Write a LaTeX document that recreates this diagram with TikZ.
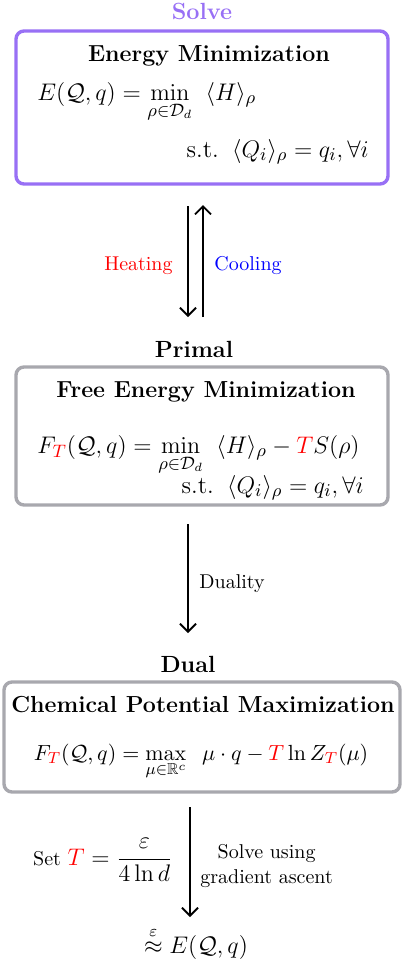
\documentclass[tikz,border=0pt]{standalone}
\usepackage{amsmath}
\usepackage{amssymb}
\usepackage{xcolor}
\usetikzlibrary{arrows.meta, positioning, fit, calc}

\definecolor{solvepurple}{RGB}{152,112,245}
\definecolor{framegray}{RGB}{168,168,174}

\tikzset{
  framebox/.style={draw, rounded corners=4pt, line width=1.7pt, inner sep=0pt},
  header/.style={font=\fontsize{11.7}{14}\selectfont\bfseries, inner sep=0pt},
  boxtitle/.style={font=\fontsize{11.6}{13}\selectfont\bfseries, inner sep=0pt},
  eqn/.style={font=\fontsize{12.3}{14}\selectfont, inner sep=0pt},
  lbl/.style={font=\fontsize{10}{12.5}\selectfont, inner sep=0pt},
  flow/.style={-{Straight Barb[length=4pt,width=8pt]}, line width=0.9pt},
}

\begin{document}
\begin{tikzpicture}[x=0.5pt, y=-0.5pt]
\useasboundingbox (0,0) rectangle (404,964);

% Solve
\node[header, text=solvepurple, anchor=base] (solvelbl) at (202,19) {Solve};
\node[framebox, draw=solvepurple, fit={(16,31) (388,184)}] (energybox) {};
\node[boxtitle, anchor=base] (energytitle) at (209,61) {Energy Minimization};
\node[eqn, anchor=base west] (energyeq) at (37,100)
  {$\displaystyle E(\mathcal{Q},q) = \min_{\rho\in\mathcal{D}_d}\;\; \langle H\rangle_\rho$};
\node[eqn, anchor=base east] (energyst) at (369,157)
  {$\text{s.t.}\;\; \langle Q_i\rangle_\rho = q_i, \forall i$};

% Heating / cooling
\coordinate (heattop) at (188,206);
\coordinate (heatbot) at (188,317);
\coordinate (cooltop) at (203,205);
\coordinate (coolbot) at (203,317);
\draw[flow] (heattop) -- (heatbot);
\draw[flow] (coolbot) -- (cooltop);
\node[lbl, text=red, anchor=base east] (heatlbl) at (173,270) {Heating};
\node[lbl, text=blue, anchor=base west] (coollbl) at (214,270) {Cooling};

% Primal
\node[header, anchor=base] (primallbl) at (194,357) {Primal};
\node[framebox, draw=framegray, fit={(16,367) (388,505)}] (primalbox) {};
\node[boxtitle, anchor=base] (primaltitle) at (206,397) {Free Energy Minimization};
\node[eqn, anchor=base west] (primaleq) at (37,453)
  {$\displaystyle F_{\textcolor{red}{T}}(\mathcal{Q},q) = \min_{\rho\in\mathcal{D}_d}\;\; \langle H\rangle_\rho - \textcolor{red}{T}S(\rho)$};
\node[eqn, anchor=base east] (primalst) at (364,493)
  {$\text{s.t.}\;\; \langle Q_i\rangle_\rho = q_i, \forall i$};

% Duality
\coordinate (dualtop) at (188,524);
\coordinate (dualbot) at (188,633);
\draw[flow] (dualtop) -- (dualbot);
\node[lbl, anchor=base west] (duallbl) at (199,588) {Duality};

% Dual
\node[header, anchor=base] (dualhead) at (188,672) {Dual};
\node[framebox, draw=framegray, fit={(4,682) (400,792)}] (dualbox) {};
\node[boxtitle, anchor=base] (dualtitle) at (203,712) {Chemical Potential Maximization};
\node[eqn, font=\fontsize{11.3}{13}\selectfont, anchor=base] (dualeq) at (201,760)
  {$\displaystyle F_{\textcolor{red}{T}}(\mathcal{Q},q) = \max_{\mu\in\mathbb{R}^c}\;\; \mu\cdot q - \textcolor{red}{T}\ln Z_{\textcolor{red}{T}}(\mu)$};

% Gradient ascent
\coordinate (ascenttop) at (190,807);
\coordinate (ascentbot) at (190,917);
\draw[flow] (ascenttop) -- (ascentbot);
\node[lbl, anchor=east] (setlbl) at (173,860)
  {Set {\fontsize{11.8}{14}\selectfont$\textcolor{red}{T} = \dfrac{\varepsilon}{4\ln d}$}};
\node[lbl, align=center, anchor=west] (solvenote) at (200,866)
  {Solve using\\gradient ascent};

\node[eqn, font=\fontsize{11.8}{14}\selectfont, anchor=base] (resultlbl) at (196,953)
  {$\overset{\varepsilon}{\approx} E(\mathcal{Q},q)$};

\end{tikzpicture}
\end{document}
